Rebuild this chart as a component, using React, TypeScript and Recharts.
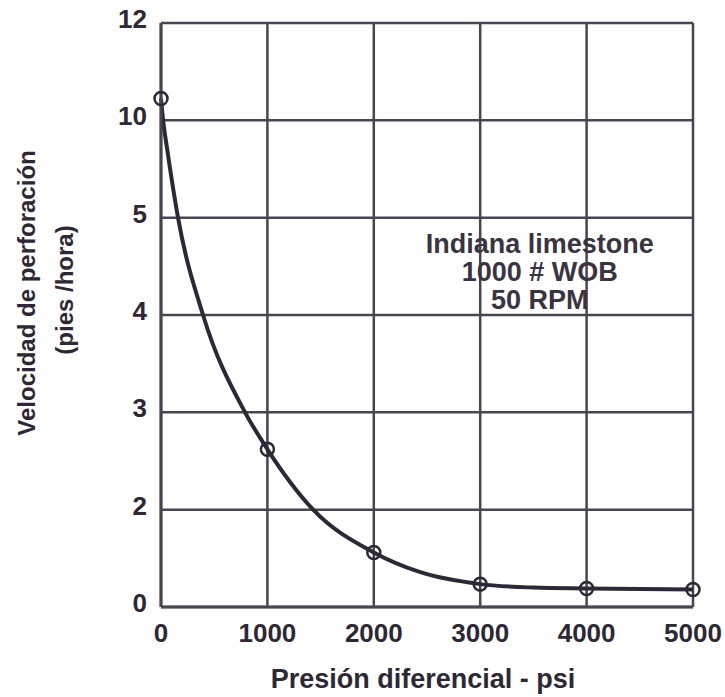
import React from 'react'
import { LineChart, Line, XAxis, YAxis, CartesianGrid, ReferenceDot } from 'recharts'

// measured points (circles)
const PRESSURE = [0, 1000, 2000, 3000, 4000, 5000]
const RATE = [10.45, 2.62, 1.12, 0.47, 0.38, 0.36]

// points
const CURVE_PRESSURE = [0, 20, 60, 160, 395, 790, 1000, 1430, 2000, 2430, 3000, 3500, 4000, 5000]
const CURVE_RATE = [10.45, 10.0, 8.45, 5.0, 4.0, 3.0, 2.62, 2.0, 1.12, 0.72, 0.47, 0.4, 0.38, 0.36]

const X_TICKS = [0, 1000, 2000, 3000, 4000, 5000]
// the y axis is not linear: these labels sit on equally spaced grid lines
const Y_LABELS = [0, 2, 3, 4, 5, 10, 12]

const NOTE = ['Indiana limestone', '1000 # WOB', '50 RPM']
const NOTE_AT = { pressure: 3560, rate: 4.43 }

const INK = '#2e2736'
const GRID = '#4a4452'
const FONT = '"Liberation Sans", Arial, sans-serif'

// rate -> position on the equally spaced label scale
const toPos = (v: number) => {
  for (let i = 1; i < Y_LABELS.length; i++) {
    if (v <= Y_LABELS[i]) return i - 1 + (v - Y_LABELS[i - 1]) / (Y_LABELS[i] - Y_LABELS[i - 1])
  }
  return Y_LABELS.length - 1
}

const points = PRESSURE.map((p, i) => ({ p, y: toPos(RATE[i]) }))
const curve = CURVE_PRESSURE.map((p, i) => ({ p, y: toPos(CURVE_RATE[i]) }))
const yTicks = Y_LABELS.map((_, i) => i)

const XTick = ({ x, y, payload }: any) => (
  <text x={x} y={y + 33} textAnchor="middle" fontFamily={FONT} fontWeight={700} fontSize={26} fill={INK}>
    {payload.value}
  </text>
)

const YTick = ({ x, y, payload }: any) => (
  <text x={x - 12} y={y + 5} textAnchor="end" fontFamily={FONT} fontWeight={700} fontSize={26} fill={INK}>
    {Y_LABELS[payload.value]}
  </text>
)

const XTitle = ({ viewBox }: any) => (
  <text x={viewBox.x + viewBox.width / 2 - 4} y={688} textAnchor="middle" fontFamily={FONT} fontWeight={700} fontSize={27} fill={INK}>
    Presión diferencial - psi
  </text>
)

const YTitle = () => (
  <g fontFamily={FONT} fontWeight={700} fontSize={24} fill={INK}>
    <text x={26} y={293} transform="rotate(-90, 26, 293)" textAnchor="middle" dominantBaseline="central">
      Velocidad de perforación
    </text>
    <text x={64} y={290} transform="rotate(-90, 64, 290)" textAnchor="middle" dominantBaseline="central">
      (pies /hora)
    </text>
  </g>
)

const Note = ({ viewBox }: any) => {
  const cx = viewBox.x + viewBox.width / 2
  const cy = viewBox.y + viewBox.height / 2
  return (
    <text textAnchor="middle" fontFamily={FONT} fontWeight={700} fontSize={27} fill="#3a3341">
      {NOTE.map((t, i) => (
        <tspan key={t} x={cx} y={cy - 20 + i * 28}>{t}</tspan>
      ))}
    </text>
  )
}

export default function App() {
  return (
    <div style={{ position: 'absolute', left: 0, top: 0, width: 725, height: 697, background: '#fff' }}>
      <LineChart width={725} height={697} margin={{ top: 23, right: 32, bottom: 0, left: 0 }}>
        <CartesianGrid stroke={GRID} strokeWidth={2.5} />
        <XAxis
          dataKey="p"
          type="number"
          domain={[0, 5000]}
          ticks={X_TICKS}
          height={90}
          tickSize={0}
          tickLine={false}
          axisLine={{ stroke: GRID, strokeWidth: 3 }}
          tick={<XTick />}
          label={{ content: <XTitle /> }}
        />
        <YAxis
          type="number"
          domain={[0, 6]}
          ticks={yTicks}
          width={161}
          tickSize={0}
          tickLine={false}
          axisLine={{ stroke: GRID, strokeWidth: 3 }}
          tick={<YTick />}
          label={{ content: <YTitle /> }}
        />
        <Line
          data={curve}
          dataKey="y"
          type="monotone"
          stroke={INK}
          strokeWidth={4}
          dot={false}
          isAnimationActive={false}
        />
        <Line
          data={points}
          dataKey="y"
          stroke="none"
          dot={{ r: 6.5, stroke: INK, strokeWidth: 2.5, fill: 'none' }}
          isAnimationActive={false}
        />
        <ReferenceDot
          x={NOTE_AT.pressure}
          y={toPos(NOTE_AT.rate)}
          r={0}
          fill="none"
          stroke="none"
          label={{ content: <Note /> }}
        />
      </LineChart>
    </div>
  )
}
